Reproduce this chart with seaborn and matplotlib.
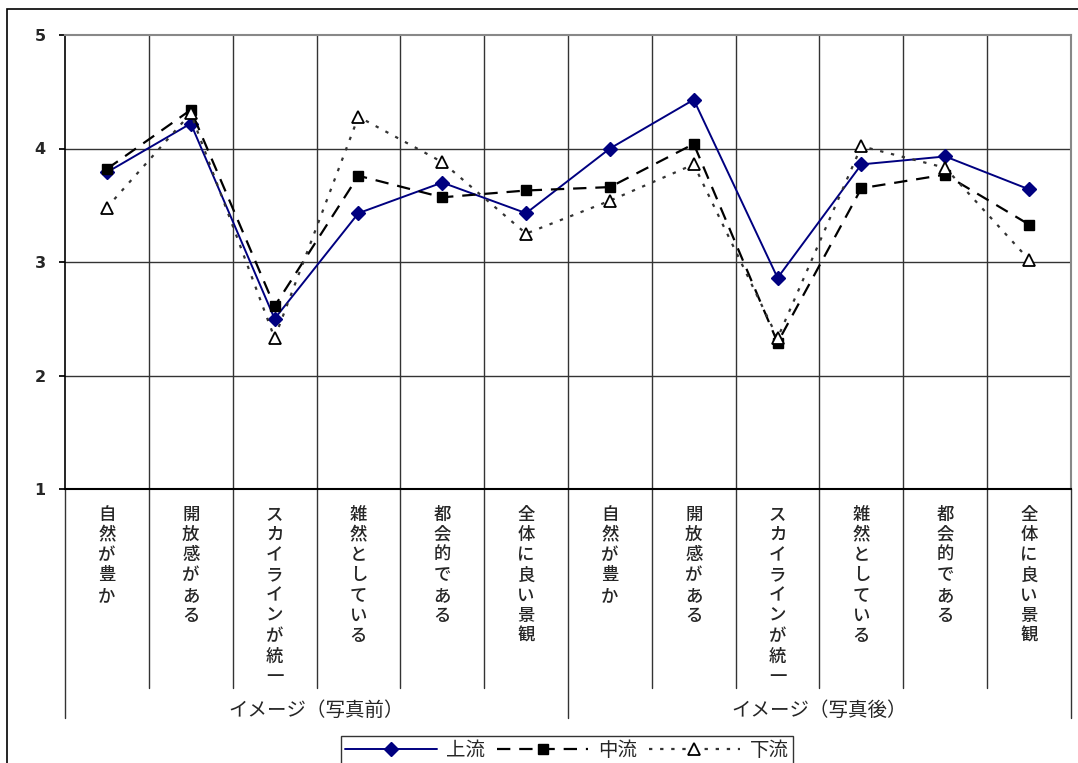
import matplotlib
matplotlib.use("Agg")
import matplotlib.pyplot as plt
import seaborn as sns
import pandas as pd
from matplotlib.lines import Line2D
from matplotlib.patches import Rectangle

# Evaluation items (same six items before / after the photo)
items = ["自然が豊か", "開放感がある", "スカイラインが統一", "雑然としている", "都会的である", "全体に良い景観"]
groups = ["イメージ（写真前）", "イメージ（写真後）"]
categories = items + items

upstream = [3.79, 4.22, 2.50, 3.43, 3.70, 3.43, 4.00, 4.43, 2.86, 3.86, 3.93, 3.64]
midstream = [3.82, 4.34, 2.61, 3.76, 3.57, 3.63, 3.66, 4.04, 2.29, 3.65, 3.77, 3.33]
downstream = [3.48, 4.31, 2.33, 4.28, 3.88, 3.25, 3.54, 3.86, 2.33, 4.02, 3.83, 3.02]
series_names = ["上流", "中流", "下流"]

y_ticks = [1, 2, 3, 4, 5]

sns.set_theme(style="white")
plt.rcParams["font.family"] = ["Noto Sans CJK JP", "DejaVu Sans"]

rows = []
for name, vals in zip(series_names, [upstream, midstream, downstream]):
    for i, v in enumerate(vals):
        rows.append({"pos": i, "series": name, "value": v})
df = pd.DataFrame(rows)

W, H = 1078, 763
fig = plt.figure(figsize=(W / 100, H / 100), dpi=100)
fig.patch.set_facecolor("white")

# outer frame of the chart area
fig.add_artist(Rectangle((7 / W, -0.1), 1.2, (H - 9) / H + 0.1, transform=fig.transFigure,
                         fill=False, edgecolor="black", linewidth=1.2))

left, right, top, bottom = 65, 1071, 35, 489
ax = fig.add_axes([left / W, 1 - bottom / H, (right - left) / W, (bottom - top) / H])

styles = {
    "上流": dict(color="#000080", linestyle="-", linewidth=1.4, marker="D", markersize=7,
               markerfacecolor="#000080", markeredgecolor="#000080"),
    "中流": dict(color="black", linestyle=(0, (6, 4)), linewidth=1.6, marker="s", markersize=7.5,
               markerfacecolor="black", markeredgecolor="black"),
    "下流": dict(color="#333333", linestyle=(0, (1.5, 3.5)), linewidth=1.6, marker="^", markersize=8.5,
               markerfacecolor="white", markeredgecolor="black", markeredgewidth=1.3),
}

for name in series_names:
    sub = df[df["series"] == name]
    st = styles[name]
    sns.lineplot(data=sub, x="pos", y="value", ax=ax, color=st["color"], linestyle=st["linestyle"],
                 linewidth=st["linewidth"], marker=st["marker"], markersize=st["markersize"],
                 markerfacecolor=st["markerfacecolor"], markeredgecolor=st["markeredgecolor"],
                 markeredgewidth=st.get("markeredgewidth", 1.0), legend=False, zorder=5)

n = len(categories)
ax.set_xlim(-0.5, n - 0.5)
ax.set_ylim(1, 5)
ax.set_yticks(y_ticks)
ax.set_yticklabels([str(t) for t in y_ticks], fontsize=11.5, fontweight="bold", family="DejaVu Sans")
ax.tick_params(axis="y", length=4, direction="out", color="black", pad=10, left=True)
ax.set_xlabel("")
ax.set_ylabel("")

# grid: horizontal at integer values, vertical at item boundaries
for t in y_ticks[1:-1]:
    ax.axhline(t, color="#333333", linewidth=1.0, zorder=1)
for b in range(1, n):
    ax.axvline(b - 0.5, color="#333333", linewidth=1.0, zorder=1)

for side in ["top", "right"]:
    ax.spines[side].set_color("#888888")
    ax.spines[side].set_linewidth(1.5)
ax.spines["left"].set_color("black")
ax.spines["left"].set_linewidth(1.2)
ax.spines["bottom"].set_color("black")
ax.spines["bottom"].set_linewidth(1.5)

# stacked (vertical-writing) category labels
ax.set_xticks(range(n))
ax.set_xticklabels(["\n".join(c) for c in categories], fontsize=12.5, linespacing=1.16,
                   va="top", ha="center", fontweight="medium")
ax.tick_params(axis="x", length=0, pad=12)

# category separators below the axis
trans = ax.get_xaxis_transform()
h = bottom - top
inner_y = -(688 - bottom) / h
outer_y = -(718 - bottom) / h
for b in range(1, n):
    if b == len(items):
        continue
    ax.plot([b - 0.5, b - 0.5], [0, inner_y], transform=trans, color="#333333",
            linewidth=1.0, clip_on=False)
for b in [0, len(items), n]:
    ax.plot([b - 0.5, b - 0.5], [0, outer_y], transform=trans, color="#333333",
            linewidth=1.0, clip_on=False)

# group labels
label_y = -(710 - bottom) / h
for gi, g in enumerate(groups):
    cx = gi * len(items) + (len(items) - 1) / 2
    ax.text(cx, label_y, g, transform=trans, ha="center", va="center", fontsize=14)

# legend
handles = [Line2D([0], [0], **styles[name]) for name in series_names]
leg = fig.legend(handles, series_names, loc="center", bbox_to_anchor=(567 / W, 1 - 750 / H),
                 ncol=3, frameon=True, fancybox=False, fontsize=14, handlelength=4.7,
                 columnspacing=0.6, handletextpad=0.5, borderpad=0.2, borderaxespad=0)
leg.get_frame().set_edgecolor("black")
leg.get_frame().set_linewidth(1.0)

fig.savefig("out.png", dpi=100)
